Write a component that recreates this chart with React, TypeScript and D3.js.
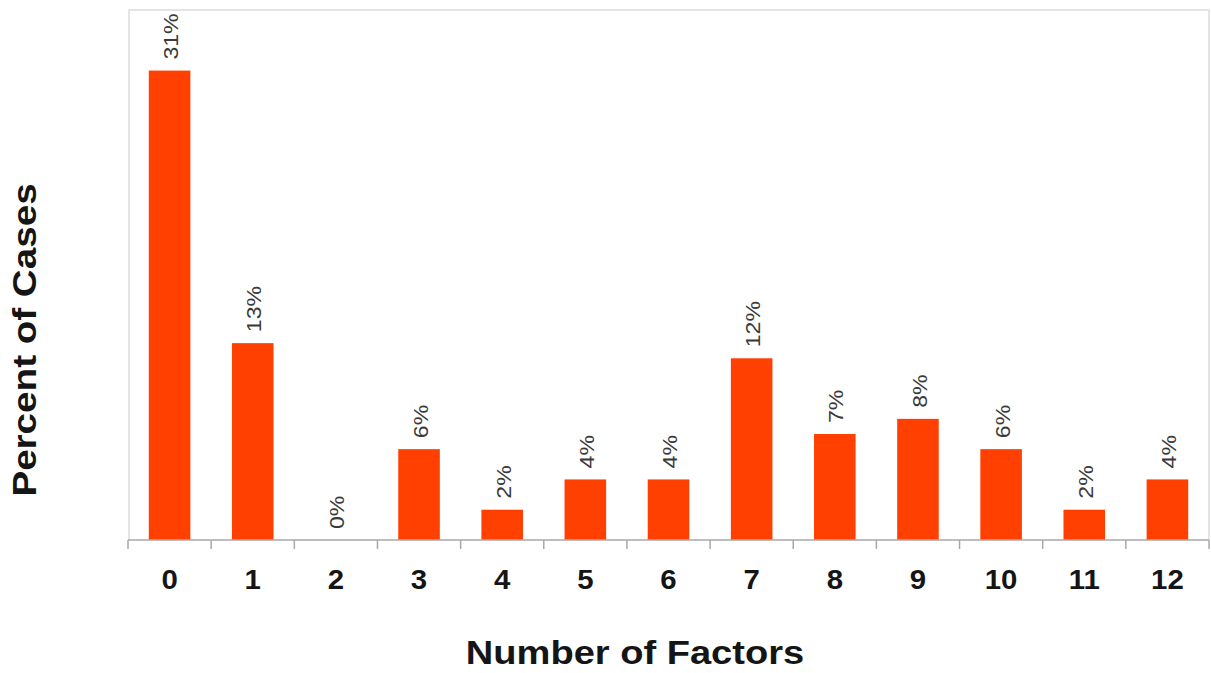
import React from "react";
import * as d3 from "d3";

// Share of cases by number of factors present
const categories: string[] = ["0", "1", "2", "3", "4", "5", "6", "7", "8", "9", "10", "11", "12"];
const percents: number[] = [31, 13, 0, 6, 2, 4, 4, 12, 7, 8, 6, 2, 4];
const yDomainMax = 35;

const W = 1211;
const H = 673;
const plot = { left: 128, right: 1209, top: 10, bottom: 540 };

const FONT = "'Liberation Sans', Arial, Helvetica, sans-serif";
const BAR = "#ff4000";

export default function App() {
  const x = d3
    .scaleBand<string>()
    .domain(categories)
    .range([plot.left, plot.right])
    .paddingInner(0.5)
    .paddingOuter(0.25);
  const y = d3.scaleLinear().domain([0, yDomainMax]).range([plot.bottom, plot.top]);

  const step = x.step();
  const boundaries = d3.range(categories.length + 1).map((i) => plot.left + i * step);

  return (
    <svg
      width={W}
      height={H}
      style={{ position: "absolute", left: 0, top: 0, background: "#fff" }}
      fontFamily={FONT}
    >
      {/* plot frame */}
      <path
        d={`M${plot.left + 1},${plot.bottom} V${plot.top} H${plot.right} V${plot.bottom}`}
        fill="none"
        stroke="#dcdcdc"
        strokeWidth={1.5}
      />

      {/* bars */}
      {percents.map((v, i) => (
        <rect
          key={categories[i]}
          x={x(categories[i])}
          y={y(v)}
          width={x.bandwidth()}
          height={plot.bottom - y(v)}
          fill={BAR}
        />
      ))}

      {/* value labels */}
      {percents.map((v, i) => {
        const cx = (x(categories[i]) as number) + x.bandwidth() / 2;
        return (
          <text
            key={"l" + categories[i]}
            transform={`translate(${cx + 1},${y(v) - 11}) rotate(-90) scale(1.1,1)`}
            dy="0.36em"
            fontSize={21}
            fill="#3a3a3a"
          >
            {`${v}%`}
          </text>
        );
      })}

      {/* x axis */}
      <line x1={plot.left} x2={plot.right} y1={plot.bottom} y2={plot.bottom} stroke="#a8a8a8" strokeWidth={1.5} />
      {boundaries.map((bx, i) => (
        <line key={"t" + i} x1={bx} x2={bx} y1={plot.bottom} y2={plot.bottom + 9} stroke="#a8a8a8" strokeWidth={1.5} />
      ))}
      {categories.map((c) => (
        <text
          key={"c" + c}
          transform={`translate(${(x(c) as number) + x.bandwidth() / 2},${589}) scale(1.05,1)`}
          textAnchor="middle"
          fontSize={28}
          fontWeight="bold"
          fill="#151515"
        >
          {c}
        </text>
      ))}

      {/* axis titles */}
      <text
        transform={`translate(635,664) scale(1.12,1)`}
        textAnchor="middle"
        fontSize={34}
        fontWeight="bold"
        fill="#151515"
      >
        Number of Factors
      </text>
      <text
        transform={`translate(36,340) rotate(-90) scale(1.17,1)`}
        textAnchor="middle"
        fontSize={33}
        fontWeight="bold"
        fill="#151515"
      >
        Percent of Cases
      </text>
    </svg>
  );
}
